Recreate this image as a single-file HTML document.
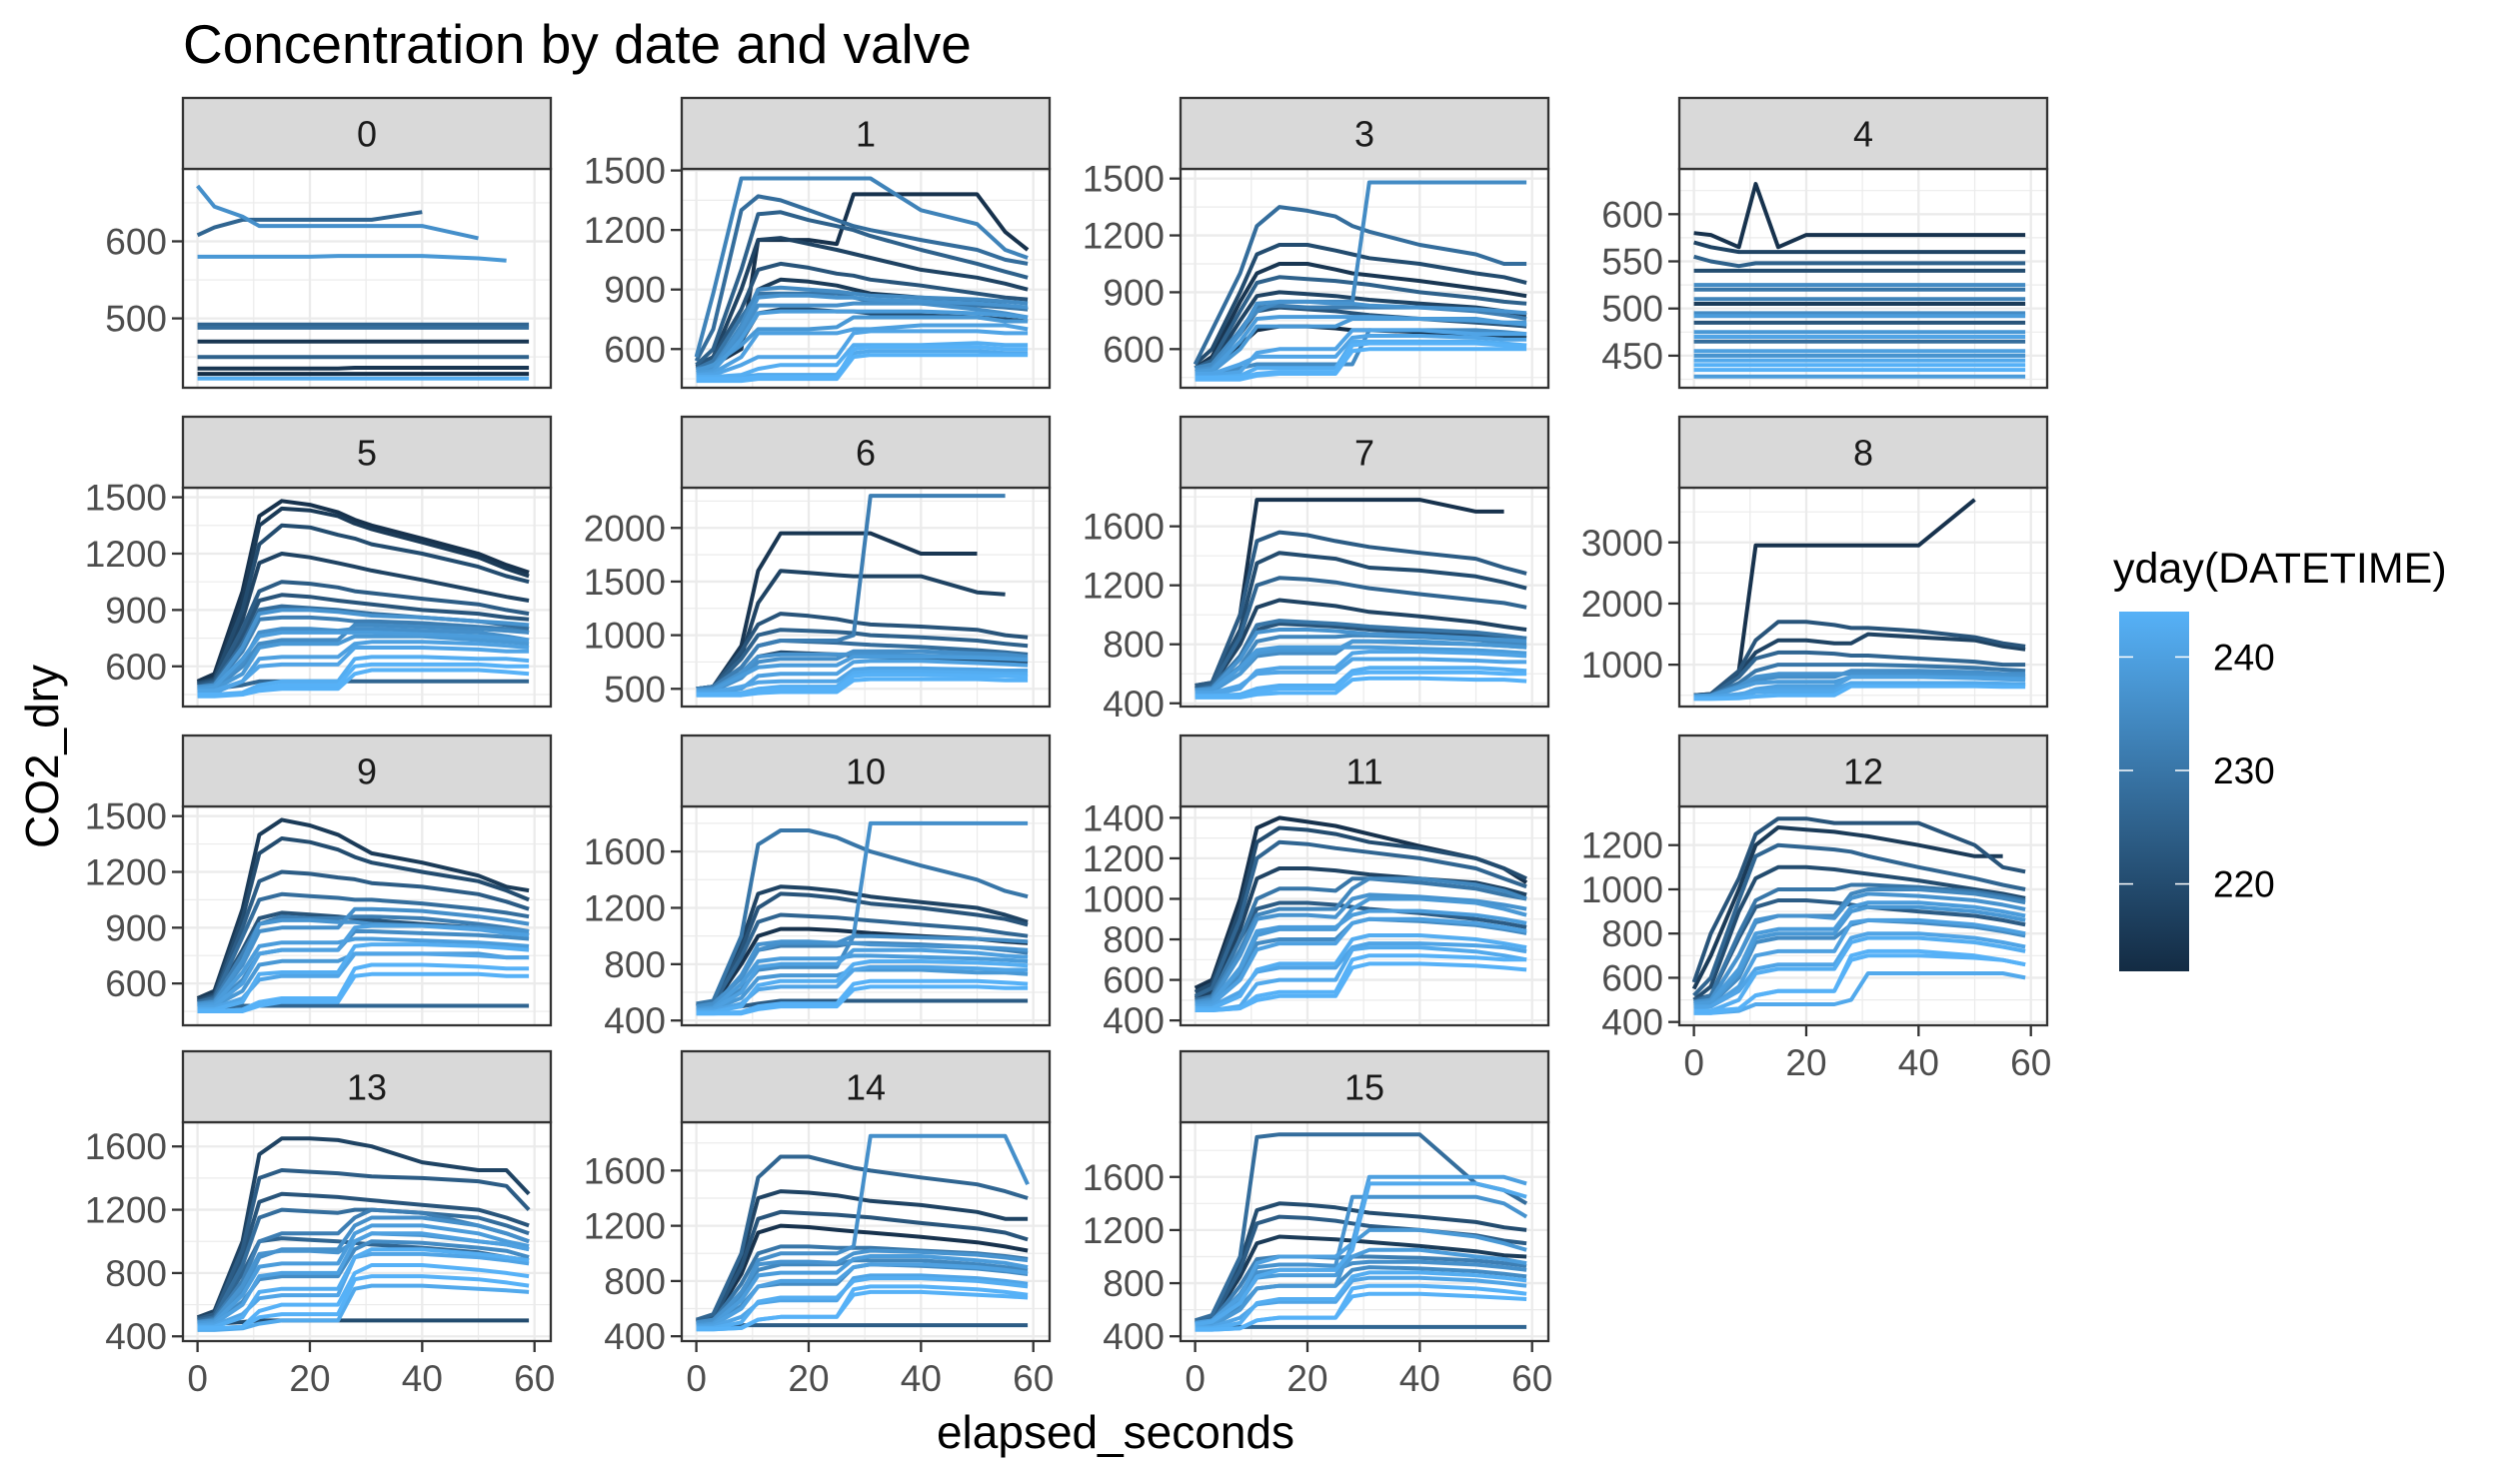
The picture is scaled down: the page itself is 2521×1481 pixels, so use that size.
<!DOCTYPE html>
<html><head><meta charset="utf-8">
<style>
html,body{margin:0;padding:0;background:#fff;}
svg{display:block;font-family:"Liberation Sans",Arial,sans-serif;}
</style></head>
<body>
<svg id="chart" width="2521" height="1481" viewBox="0 0 2521 1481" xmlns="http://www.w3.org/2000/svg">
<rect x="0" y="0" width="2521" height="1481" fill="#ffffff"/>
<text x="183" y="63" font-size="55" fill="#000">Concentration by date and valve</text>
<text x="1116" y="1449" font-size="46" text-anchor="middle" fill="#000">elapsed_seconds</text>
<text x="0" y="0" font-size="46" text-anchor="middle" fill="#000" transform="translate(58,757) rotate(-90)">CO2_dry</text>
<g id="panels"></g>
<g id="legend"></g>
</svg>
<script>
// ---- data ----
const xGrid = [0,3,8,11,15,20,25,28,31,40,50,55,59];
const panelLabels = ['0','1','3','4','5','6','7','8','9','10','11','12','13','14','15'];
const yDomains = [[410,694],[405,1508],[396,1551],[416,648],[386,1551],[335,2375],[378,1862],[316,3895],[375,1552],[366,1920],[376,1456],[385,1375],[370,1753],[365,1950],[364,2012]];
const yTicks = [[500,600],[600,900,1200,1500],[600,900,1200,1500],[450,500,550,600],[600,900,1200,1500],[500,1000,1500,2000],[400,800,1200,1600],[1000,2000,3000],[600,900,1200,1500],[400,800,1200,1600],[400,600,800,1000,1200,1400],[400,600,800,1000,1200],[400,800,1200,1600],[400,800,1200,1600],[400,800,1200,1600]];
const xTicks = [0,20,40,60];
const legendTicks = [220,230,240];
const extraDays=[239,241,237,244,235];

const days0=[236,226,238,226,228,215,225,215,213,243];
const series0=[
[672,645,632,620,620,620,620,620,620,620,604,null,null],
[608,618,628,628,628,628,628,628,628,638,null,null,null],
[580,580,580,580,580,580,581,581,581,581,578,575,null],
[492,492,492,492,492,492,492,492,492,492,492,492,492],
[488,488,488,488,488,488,488,488,488,488,488,488,488],
[470,470,470,470,470,470,470,470,470,470,470,470,470],
[450,450,450,450,450,450,450,450,450,450,450,450,450],
[435,435,435,435,435,435,435,436,436,436,436,436,436],
[428,428,428,428,428,428,428,428,428,428,428,428,428],
[422,422,422,422,422,422,422,422,422,422,422,422,422]];
const extra0=[];
const days1=[233,214,228,225,218,222,216,230,236,240,243,242,238,220,244];
const series1=[
[560,880,1460,1460,1460,1460,1460,1460,1460,1300,1230,1100,1060],
[520,520,600,1150,1150,1150,1130,1380,1380,1380,1380,1190,1100],
[540,700,1300,1370,1350,1300,1250,1220,1200,1150,1100,1050,1030],
[520,600,1000,1280,1290,1250,1220,1200,1170,1100,1030,990,960],
[510,560,900,1150,1160,1130,1100,1080,1060,1000,960,930,900],
[520,560,800,1000,1030,1010,980,970,950,920,880,860,850],
[500,530,700,900,950,940,920,900,880,860,840,820,800],
[500,540,760,880,880,880,880,860,840,830,820,810,800],
[480,500,680,820,820,820,820,830,830,830,800,780,760],
[470,480,560,680,680,680,680,700,700,720,720,720,700],
[460,460,470,500,520,520,520,620,620,620,630,620,620],
[450,450,460,470,470,470,470,580,590,590,590,580,580],
[490,520,620,700,700,700,710,760,760,760,760,740,740],
[500,520,640,780,800,800,790,790,780,770,760,750,740],
[440,440,440,450,450,450,450,560,570,570,570,570,570]];
const extra1=[
[480,490,650,780,790,790,790,790,790,790,780,770,760],
[470,470,520,560,560,560,560,680,690,690,690,680,680],
[490,500,700,860,870,870,860,860,850,840,830,820,810],
[450,450,450,460,460,460,460,600,610,610,610,600,600],
[500,510,720,900,910,900,890,880,870,860,850,840,830]];
const days3=[235,228,220,215,225,218,232,238,241,244,243,222,213];
const series3=[
[500,520,700,800,850,850,850,850,1480,1480,1480,1480,1480],
[520,700,1000,1250,1350,1330,1300,1250,1220,1150,1100,1050,1050],
[520,600,900,1100,1150,1150,1120,1100,1080,1050,1000,980,950],
[500,560,850,1000,1050,1050,1020,1000,990,960,920,900,880],
[500,540,800,950,980,970,960,950,940,900,870,850,840],
[500,520,750,880,900,890,880,870,860,840,820,800,780],
[480,500,700,820,830,820,820,820,820,820,800,780,760],
[470,480,600,720,720,720,720,760,760,760,760,740,740],
[460,460,480,580,600,600,600,700,700,700,680,680,680],
[440,440,440,460,470,470,470,590,600,600,600,600,600],
[450,450,460,500,500,500,500,640,640,640,640,630,620],
[500,520,680,800,820,810,800,790,780,760,740,730,720],
[500,510,620,700,720,720,710,700,700,690,680,670,660]];
const extra3=[
[480,490,640,760,770,770,770,770,770,760,750,740,730],
[470,470,520,560,560,560,560,660,670,670,660,650,650],
[490,500,680,840,850,850,840,840,830,820,810,800,790],
[450,450,450,470,480,480,480,620,630,630,630,620,620],
[460,460,500,520,520,520,520,520,700,700,700,690,680]];
const days4=[214,218,225,220,230,216,235,222,238,228,240,242,244,239,233];
const series4=[
[580,578,565,632,565,578,578,578,578,578,578,578,578],
[570,565,560,560,560,560,560,560,560,560,560,560,560],
[555,550,545,548,548,548,548,548,548,548,548,548,548],
[540,540,540,540,540,540,540,540,540,540,540,540,540],
[520,520,520,520,520,520,520,520,520,520,520,520,520],
[505,505,505,505,505,505,505,505,505,505,505,505,505],
[495,495,495,495,495,495,495,495,495,495,495,495,495],
[485,485,485,485,485,485,485,485,485,485,485,485,485],
[475,475,475,475,475,475,475,475,475,475,475,475,475],
[465,465,465,465,465,465,465,465,465,465,465,465,465],
[455,455,455,455,455,455,455,455,455,455,455,455,455],
[445,445,445,445,445,445,445,445,445,445,445,445,445],
[435,435,435,435,435,435,435,435,435,435,435,435,435],
[428,428,428,428,428,428,428,428,428,428,428,428,428],
[510,510,510,510,510,510,510,510,510,510,510,510,510]];
const extra4=[
[492,492,492,492,492,492,492,492,492,492,492,492,492],
[470,470,470,470,470,470,470,470,470,470,470,470,470],
[450,450,450,450,450,450,450,450,450,450,450,450,450],
[440,440,440,440,440,440,440,440,440,440,440,440,440],
[525,525,525,525,525,525,525,525,525,525,525,525,525]];
const days5=[214,216,220,218,224,228,232,236,240,243,238,222,244,226];
const series5=[
[520,560,1000,1400,1480,1460,1420,1380,1350,1280,1200,1140,1100],
[510,540,950,1350,1440,1430,1400,1360,1330,1260,1180,1120,1080],
[510,530,900,1250,1350,1340,1300,1280,1250,1200,1130,1080,1050],
[500,520,850,1150,1200,1180,1150,1130,1110,1060,1000,970,950],
[500,520,800,1000,1050,1040,1020,1000,990,960,930,900,880],
[490,510,720,900,920,910,900,890,880,860,840,820,800],
[480,500,680,850,860,860,850,840,840,830,810,800,780],
[470,480,620,780,800,800,790,800,800,790,780,760,740],
[460,460,520,640,650,650,650,720,730,730,720,710,700],
[450,450,460,500,520,520,520,640,650,650,640,640,630],
[470,480,560,700,720,720,720,760,760,760,740,730,720],
[500,520,760,950,980,970,950,940,930,900,880,860,850],
[440,440,450,470,480,480,480,560,580,580,580,570,560],
[480,480,500,520,520,520,520,520,520,520,520,520,520]];
const extra5=[
[480,490,640,760,780,780,780,780,780,770,760,750,740],
[470,470,520,600,610,610,610,700,700,700,690,680,680],
[490,500,700,880,900,900,890,880,870,860,840,830,820],
[450,450,450,480,500,500,500,600,610,610,610,600,600],
[470,480,600,720,740,740,740,820,820,810,800,790,780]];
const days6=[215,218,232,222,225,228,236,240,243,244,220];
const series6=[
[500,520,900,1600,1950,1950,1950,1950,1950,1760,1760,null,null],
[500,520,800,1300,1600,1580,1560,1550,1550,1550,1400,1380,null],
[500,520,700,900,950,950,950,1000,2300,2300,2300,2300,null],
[500,520,850,1100,1200,1180,1150,1120,1100,1080,1050,1000,980],
[500,510,780,1000,1050,1040,1030,1020,1000,980,950,920,900],
[490,500,700,900,950,940,930,920,910,890,860,840,820],
[470,480,600,750,780,780,780,850,850,850,830,820,800],
[460,460,500,620,640,640,640,750,760,760,740,730,720],
[450,450,460,500,520,520,520,650,660,660,650,640,640],
[440,440,440,460,470,470,470,580,590,590,590,580,580],
[490,500,650,800,840,830,820,810,800,790,770,760,750]];
const extra6=[
[480,490,620,700,720,720,720,800,800,800,790,780,770],
[470,470,520,560,570,570,570,680,690,690,680,670,670],
[490,500,650,800,820,820,820,820,820,810,800,790,780],
[450,450,450,480,500,500,500,620,630,630,620,620,610]];
const days7=[214,224,220,226,218,230,234,238,241,243,244,222];
const series7=[
[520,540,1000,1780,1780,1780,1780,1780,1780,1780,1700,1700,null],
[520,540,1000,1500,1560,1540,1500,1480,1460,1420,1380,1320,1280],
[510,530,900,1350,1420,1400,1380,1350,1320,1300,1260,1220,1180],
[500,520,850,1200,1250,1240,1220,1200,1180,1140,1100,1080,1050],
[500,520,800,1050,1100,1080,1060,1040,1020,990,950,920,900],
[490,510,720,930,960,950,940,930,920,900,880,860,840],
[480,500,650,820,850,850,850,860,860,850,830,810,800],
[470,480,600,740,760,760,760,820,820,820,800,790,780],
[460,460,500,620,640,640,640,740,750,750,740,730,720],
[450,450,460,500,520,520,520,620,640,640,640,630,620],
[440,440,440,460,470,470,470,560,570,570,560,560,550],
[490,500,700,900,940,930,920,910,900,880,860,850,840]];
const extra7=[
[480,490,640,760,780,780,780,780,780,770,760,750,740],
[470,470,520,600,610,610,610,700,700,700,690,680,680],
[490,500,700,880,900,900,890,880,870,860,840,830,820],
[450,450,450,480,500,500,500,600,610,610,610,600,600],
[470,480,600,720,740,740,740,820,820,810,800,790,780]];
const days8=[214,222,218,226,230,236,240,244,242];
const series8=[
[500,520,900,2950,2950,2950,2950,2950,2950,2950,3700,null,null],
[500,520,900,1400,1700,1700,1650,1600,1600,1550,1450,1350,1300],
[500,510,850,1200,1400,1400,1350,1350,1500,1450,1400,1300,1250],
[490,500,800,1100,1200,1200,1180,1150,1150,1100,1050,1000,1000],
[480,500,700,900,1000,1000,1000,1000,1000,980,950,920,900],
[470,480,620,750,800,800,800,900,900,900,880,850,850],
[460,460,500,600,650,650,650,800,800,800,780,760,750],
[440,440,450,480,500,500,500,650,650,650,650,640,640],
[450,450,470,550,560,560,560,700,700,700,700,690,680]];
const extra8=[
[480,490,620,700,720,720,720,800,800,800,790,780,770],
[470,470,520,560,600,600,600,700,700,700,690,680,680],
[490,500,650,800,850,850,850,850,850,840,830,820,810]];
const days9=[216,220,224,228,232,236,240,243,244,238,222,226];
const series9=[
[520,560,1000,1400,1480,1450,1400,1350,1300,1250,1180,1120,1100],
[510,540,950,1300,1380,1360,1320,1280,1250,1200,1150,1100,1050],
[500,530,900,1150,1200,1190,1170,1160,1140,1120,1080,1040,1000],
[500,520,850,1050,1080,1070,1060,1050,1050,1030,1000,980,960],
[490,510,760,920,960,950,950,960,960,950,920,900,880],
[480,500,700,880,900,900,900,1000,1000,990,960,940,920],
[470,480,600,760,780,780,780,900,910,910,890,870,860],
[460,460,500,650,660,660,660,800,810,810,800,790,780],
[450,450,460,500,520,520,520,680,700,700,690,680,680],
[470,480,560,700,720,720,720,760,760,760,760,740,740],
[500,520,780,950,980,970,960,950,940,920,900,880,860],
[470,470,480,480,480,480,480,480,480,480,480,480,480]];
const extra9=[
[480,490,660,800,820,820,820,840,840,830,820,810,800],
[470,470,520,620,640,640,640,760,760,760,750,740,740],
[490,500,720,920,940,940,930,930,920,910,900,890,880],
[450,450,450,480,500,500,500,640,650,650,650,640,640],
[470,480,620,760,780,780,780,880,880,870,860,850,840]];
const days10=[230,236,218,222,226,214,232,240,243,244,238,224];
const series10=[
[520,540,1000,1650,1750,1750,1700,1650,1600,1500,1400,1320,1280],
[500,520,700,900,950,950,950,1000,1800,1800,1800,1800,1800],
[510,530,950,1300,1350,1340,1320,1300,1280,1240,1200,1150,1100],
[500,520,900,1200,1300,1290,1270,1250,1230,1200,1150,1120,1080],
[500,520,850,1100,1150,1140,1130,1120,1110,1080,1050,1020,1000],
[500,510,800,1000,1050,1050,1040,1030,1020,1000,980,960,950],
[490,500,720,900,930,930,930,950,950,940,920,900,880],
[470,480,600,780,800,800,800,900,900,900,880,860,850],
[460,460,500,650,680,680,680,800,820,820,810,800,790],
[450,450,460,500,520,520,520,660,680,680,680,670,660],
[470,480,560,700,720,720,720,760,760,760,740,740,730],
[480,480,500,520,540,540,540,540,540,540,540,540,540]];
const extra10=[
[480,490,660,820,840,840,840,860,860,850,840,830,820],
[470,470,520,620,640,640,640,760,780,780,770,760,760],
[490,500,720,940,960,960,950,950,940,930,920,910,900],
[450,450,450,480,500,500,500,620,640,640,640,630,630],
[470,480,620,760,780,780,780,1000,1000,990,980,970,960]];
const days11=[214,220,226,218,230,234,238,240,243,244,224,242];
const series11=[
[560,600,1000,1350,1400,1380,1360,1340,1320,1260,1200,1150,1080],
[540,580,950,1280,1350,1340,1320,1300,1280,1250,1200,1150,1100],
[520,560,900,1200,1280,1270,1250,1240,1230,1200,1150,1100,1060],
[510,540,850,1100,1150,1150,1140,1130,1120,1100,1080,1050,1020],
[500,520,800,1000,1050,1050,1040,1100,1100,1080,1050,1020,1000],
[490,510,750,920,950,950,950,1050,1100,1100,1070,1040,1000],
[480,490,650,820,850,850,850,950,1000,1000,980,950,920],
[470,480,600,750,780,780,780,880,900,900,880,860,840],
[460,460,520,650,680,680,680,800,820,820,800,780,760],
[450,450,460,520,540,540,540,700,720,720,710,700,700],
[500,520,800,950,980,980,970,960,950,930,900,880,860],
[450,450,470,580,600,600,600,750,760,760,740,720,700]];
const extra11=[
[480,490,660,840,860,860,860,920,940,940,920,900,880],
[470,470,540,640,660,660,660,760,780,780,770,760,740],
[490,500,720,900,920,920,910,1000,1020,1010,990,970,950],
[450,450,460,500,520,520,520,660,680,680,670,660,650],
[470,480,620,780,800,800,800,880,900,890,870,850,830]];
const days12=[222,216,226,220,230,234,238,240,243,244,242,224];
const series12=[
[580,800,1050,1250,1320,1320,1300,1300,1300,1300,1200,1100,1080],
[550,700,1000,1200,1280,1270,1260,1250,1240,1200,1150,1150,null],
[520,600,950,1150,1200,1190,1180,1170,1150,1100,1050,1020,1000],
[500,560,900,1050,1100,1100,1090,1080,1070,1040,1000,980,960],
[490,520,800,950,1000,1000,1000,1020,1020,1010,990,970,950],
[480,500,700,850,880,880,880,980,1000,1000,980,960,940],
[470,480,620,780,800,800,800,900,920,920,900,880,860],
[460,470,560,700,720,720,720,850,860,860,840,820,800],
[450,450,500,620,640,640,640,760,780,780,760,740,720],
[440,440,460,520,540,540,540,700,720,720,700,680,660],
[440,440,450,480,480,480,480,500,620,620,620,620,600],
[500,520,780,920,950,950,940,930,920,900,880,860,840]];
const extra12=[
[480,490,640,800,820,820,820,920,940,940,920,900,880],
[470,470,540,640,660,660,660,780,800,800,780,760,740],
[490,500,700,860,880,880,870,960,980,970,950,930,910],
[450,450,460,520,540,540,540,680,700,700,690,680,660],
[470,480,600,760,780,780,780,840,860,850,830,810,790]];
const days13=[218,224,222,228,232,236,240,243,244,226,242,220];
const series13=[
[520,560,1000,1550,1650,1650,1640,1620,1600,1500,1450,1450,1300],
[510,540,950,1400,1450,1440,1430,1420,1410,1400,1380,1350,1200],
[500,520,900,1250,1300,1290,1280,1270,1260,1230,1200,1150,1100],
[500,520,850,1150,1200,1190,1180,1200,1200,1180,1150,1100,1050],
[490,510,750,1000,1050,1050,1050,1150,1200,1180,1100,1050,1000],
[480,500,680,900,950,950,950,1100,1150,1150,1100,1050,1000],
[470,480,600,780,800,800,800,1000,1050,1050,1000,980,950],
[460,460,520,680,700,700,700,900,950,950,920,900,880],
[450,450,460,560,600,600,600,800,850,850,820,800,780],
[500,520,800,1000,1020,1010,1000,990,980,960,930,900,880],
[440,440,450,480,500,500,500,700,720,720,700,690,680],
[480,480,490,500,500,500,500,500,500,500,500,500,500]];
const extra13=[
[480,490,660,840,860,860,860,1050,1100,1100,1050,1000,970],
[470,470,540,640,660,660,660,900,920,920,900,880,860],
[490,500,720,920,940,940,930,1000,1050,1040,1000,980,950],
[450,450,460,520,540,540,540,760,780,780,760,740,720],
[470,480,620,760,780,780,780,950,1000,990,960,940,900]];
const days14=[226,236,218,222,214,230,234,240,243,244,224];
const series14=[
[520,560,1000,1550,1700,1700,1650,1620,1600,1550,1500,1450,1400],
[500,520,700,950,1000,1000,1000,1050,1850,1850,1850,1850,1500],
[510,540,950,1400,1450,1440,1420,1400,1380,1350,1300,1250,1250],
[500,530,900,1250,1300,1290,1280,1270,1260,1220,1180,1150,1100],
[500,520,850,1150,1200,1190,1170,1160,1150,1120,1080,1050,1020],
[490,510,780,1000,1050,1050,1040,1040,1040,1020,1000,980,960],
[480,500,700,880,920,920,920,950,950,950,920,900,880],
[470,480,600,760,800,800,800,900,920,920,900,880,860],
[460,460,500,650,680,680,680,800,820,820,800,780,760],
[450,450,460,520,540,540,540,700,720,720,700,690,680],
[480,480,480,480,480,480,480,480,480,480,480,480,480]];
const extra14=[
[480,490,660,840,860,860,860,960,980,980,950,930,900],
[470,470,540,640,660,660,660,820,840,840,820,800,780],
[490,500,720,920,940,940,930,1000,1020,1010,990,970,950],
[450,450,460,520,540,540,540,740,760,760,740,720,700],
[470,480,620,760,780,780,780,900,920,910,890,870,850]];
const days15=[228,240,242,220,224,216,232,236,243,244,226,238];
const series15=[
[520,560,1000,1900,1920,1920,1920,1920,1920,1920,1550,1500,1400],
[500,520,700,950,1000,1000,1000,1100,1600,1600,1600,1600,1550],
[490,510,650,850,900,900,900,1050,1550,1550,1550,1500,1450],
[510,540,950,1350,1400,1390,1370,1350,1330,1300,1260,1220,1200],
[500,530,900,1250,1300,1290,1270,1250,1230,1200,1160,1120,1100],
[500,520,850,1100,1150,1140,1130,1120,1110,1080,1040,1010,1000],
[490,510,780,980,1000,1000,990,1000,1000,990,970,950,930],
[480,500,700,880,900,900,900,950,960,960,940,920,900],
[460,460,500,650,680,680,680,850,880,880,860,840,820],
[450,450,460,520,540,540,540,700,720,720,700,690,680],
[470,470,470,470,470,470,470,470,470,470,470,470,470],
[470,480,600,760,780,780,780,1100,1200,1200,1150,1100,1050]];
const extra15=[
[480,490,660,840,860,860,860,1000,1050,1050,1000,980,950],
[470,470,540,640,660,660,660,820,840,840,820,800,780],
[490,500,720,920,940,940,930,1450,1450,1450,1450,1400,1300],
[450,450,460,520,540,540,540,760,780,780,760,740,720],
[470,480,620,760,780,780,780,900,920,910,890,870,850]];
const baseSeries=[series0,series1,series3,series4,series5,series6,series7,series8,series9,series10,series11,series12,series13,series14,series15];
const baseDays=[days0,days1,days3,days4,days5,days6,days7,days8,days9,days10,days11,days12,days13,days14,days15];
const allExtras=[extra0,extra1,extra3,extra4,extra5,extra6,extra7,extra8,extra9,extra10,extra11,extra12,extra13,extra14,extra15];
const allSeries=baseSeries.map((s,i)=>s.concat(allExtras[i]));
const allDays=baseDays.map((d,i)=>d.concat(extraDays.slice(0,allExtras[i].length)));

// ---- layout ----
const NS='http://www.w3.org/2000/svg';
const colLefts=[183,682,1181,1680];
const rowTops=[98,417,736,1052];
const PW=368, SH=71, PH=219;
const XMIN=-2.6, XMAX=62.9;
const DMIN=212.3, DMAX=244;
function mk(tag,attrs,parent){const e=document.createElementNS(NS,tag);for(const k in attrs)e.setAttribute(k,attrs[k]);parent.appendChild(e);return e;}
function lerp(a,b,t){return Math.round(a+(b-a)*t);}
function dayColor(d){const t=Math.max(0,Math.min(1,(d-DMIN)/(DMAX-DMIN)));
  return 'rgb('+lerp(0x13,0x56,t)+','+lerp(0x2B,0xB1,t)+','+lerp(0x43,0xF7,t)+')';}

const root=document.getElementById('panels');
panelLabels.forEach((lab,i)=>{
  const r=Math.floor(i/4), c=i%4;
  const L=colLefts[c], T=rowTops[r], PT=T+SH, PB=PT+PH;
  const [y0,y1]=yDomains[i];
  const sx=v=>L+(v-XMIN)/(XMAX-XMIN)*PW;
  const sy=v=>PB-(v-y0)/(y1-y0)*PH;
  const g=mk('g',{},root);
  
  
  mk('rect',{x:L,y:PT,width:PW,height:PH,fill:'#fff'},g);
  const cg=mk('clipPath',{id:'clip'+i},g);
  mk('rect',{x:L,y:PT,width:PW,height:PH},cg);
  [10,30,50].forEach(v=>mk('line',{x1:sx(v),x2:sx(v),y1:PT,y2:PB,stroke:'#EBEBEB','stroke-width':1.2},g));
  const tk=yTicks[i], step=tk[1]-tk[0];
  for(let v=tk[0]-step/2; v<=y1; v+=step){ if(v>y0) mk('line',{x1:L,x2:L+PW,y1:sy(v),y2:sy(v),stroke:'#EBEBEB','stroke-width':1.2},g); }
  xTicks.forEach(v=>mk('line',{x1:sx(v),x2:sx(v),y1:PT,y2:PB,stroke:'#EBEBEB','stroke-width':2.3},g));
  tk.forEach(v=>mk('line',{x1:L,x2:L+PW,y1:sy(v),y2:sy(v),stroke:'#EBEBEB','stroke-width':2.3},g));
  const ser=allSeries[i], ds=allDays[i];
  const order=ds.map((d,k)=>k).filter(k=>ser[k]).sort((a,b)=>ds[a]-ds[b]);
  const lg=mk('g',{'clip-path':'url(#clip'+i+')'},g);
  order.forEach(k=>{
    let dstr='', pen=false;
    ser[k].forEach((v,j)=>{ if(v===null){pen=false;return;} dstr+=(pen?'L':'M')+sx(xGrid[j]).toFixed(1)+','+sy(v).toFixed(1); pen=true; });
    const p=mk('path',{d:dstr,fill:'none',stroke:dayColor(ds[k]),'stroke-width':4,'stroke-linejoin':'round'},lg);
    
    
  });
  mk('rect',{x:L,y:PT,width:PW,height:PH,fill:'none',stroke:'#333333','stroke-width':2.3},g);
  const st=mk('rect',{x:L,y:T,width:PW,height:SH,fill:'#D9D9D9',stroke:'#333333','stroke-width':2.3},g);
  
  
  const stt=mk('text',{x:L+PW/2,y:T+SH/2+13,'font-size':36,'text-anchor':'middle',fill:'#1A1A1A'},g);
  stt.textContent=lab;
  
  
  tk.forEach(v=>{
    mk('line',{x1:L-11,x2:L,y1:sy(v),y2:sy(v),stroke:'#333333','stroke-width':2.3},g);
    const t=mk('text',{x:L-16,y:sy(v)+13,'font-size':37,'text-anchor':'end',fill:'#4D4D4D'},g);
    t.textContent=v;
    
    
  });
  if(i>=11){
    xTicks.forEach(v=>{
      mk('line',{x1:sx(v),x2:sx(v),y1:PB,y2:PB+11,stroke:'#333333','stroke-width':2.3},g);
      const t=mk('text',{x:sx(v),y:PB+50,'font-size':37,'text-anchor':'middle',fill:'#4D4D4D'},g);
      t.textContent=v;
      
      
    });
  }
});

// ---- legend ----
const lgd=document.getElementById('legend');
const BX=2120, BW=70, BT=612, BB=972;
const ly=d=>BB-(d-DMIN)/(DMAX-DMIN)*(BB-BT);
const lt=mk('text',{x:2114,y:583,'font-size':43,fill:'#000'},lgd);
lt.textContent='yday(DATETIME)';


const defs=mk('defs',{},lgd);
const gr=mk('linearGradient',{id:'cbar',x1:0,y1:1,x2:0,y2:0},defs);
mk('stop',{offset:'0','stop-color':dayColor(DMIN)},gr);
mk('stop',{offset:'0.5','stop-color':dayColor((DMIN+DMAX)/2)},gr);
mk('stop',{offset:'1','stop-color':dayColor(DMAX)},gr);
const cb=mk('rect',{x:BX,y:BT,width:BW,height:BB-BT,fill:'url(#cbar)'},lgd);


legendTicks.forEach(d=>{
  mk('line',{x1:BX,x2:BX+14,y1:ly(d),y2:ly(d),stroke:'#fff','stroke-width':1.5},lgd);
  mk('line',{x1:BX+BW-14,x2:BX+BW,y1:ly(d),y2:ly(d),stroke:'#fff','stroke-width':1.5},lgd);
  const t=mk('text',{x:2214,y:ly(d)+13,'font-size':37,fill:'#000'},lgd);
  t.textContent=d;
  
  
});
</script>
</body></html>
